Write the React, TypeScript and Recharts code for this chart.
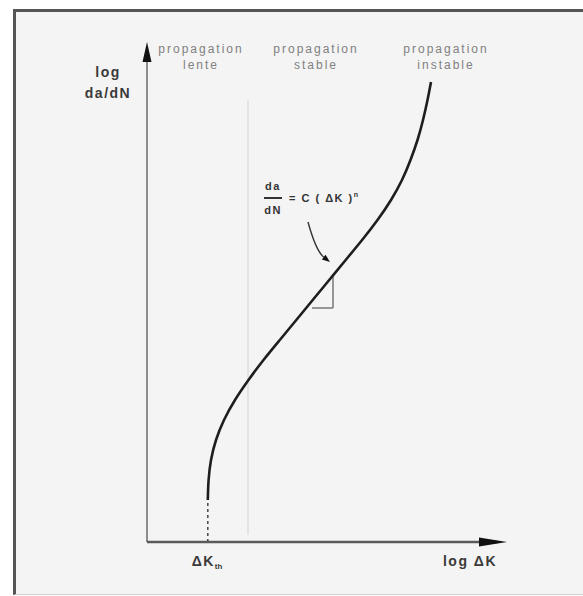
import React from 'react';
import { LineChart, Line, XAxis, YAxis, ReferenceLine } from 'recharts';

// Paris-law crack growth curve: log(da/dN) against log(ΔK), arbitrary 0–100 units
const logDeltaK = [16.89, 17.11, 17.78, 19.17, 21.39, 24.44, 28.19, 32.36, 36.89, 41.47, 46.03, 50.61, 55.19, 59.75, 64.03, 67.78, 70.83, 73.19, 75.14, 76.67, 77.92, 78.89];
const logDaDN = [8.4, 12.4, 16.4, 20.4, 24.4, 28.4, 32.4, 36.4, 40.4, 44.4, 48.4, 52.4, 56.4, 60.4, 64.4, 68.4, 72.4, 76.4, 80.4, 84.4, 88.4, 92.0];

// threshold ΔK_th (start of the curve) and the boundary between slow and stable growth
const deltaKth = logDeltaK[0];
const regimeBoundary = 28.06;

// slope triangle on the linear (Paris) part
const triangleX = [45.83, 51.67];
const triangleY = [46.8, 53.4];

// pointer from the formula to the straight part
const pointerFrom = { x: 44.72, y: 64 };
const pointerTo = { x: 50.83, y: 56 };

const regimeLabels = [
  { x: 201, lines: ['propagation', 'lente'] },
  { x: 316, lines: ['propagation', 'stable'] },
  { x: 446, lines: ['propagation', 'instable'] },
];

const data = logDeltaK.map((x, i) => ({ x, y: logDaDN[i] }));

const W = 583;
const H = 596;
const FONT = '"Liberation Sans", Arial, Helvetica, sans-serif';

const yAxisShape = (p: any) => {
  const { x1, y1, x2, y2 } = p;
  return (
    <g>
      <line x1={x1} y1={y1} x2={x2} y2={y2 + 10} stroke="#8c8c8c" strokeWidth={2} />
      <polygon points={`${x2},${y2} ${x2 - 4.5},${y2 + 20} ${x2 + 4.5},${y2 + 20}`} fill="#111" />
    </g>
  );
};

const xAxisShape = (p: any) => {
  const { x1, y1, x2, y2 } = p;
  return (
    <g>
      <line x1={x1} y1={y1} x2={x2 - 10} y2={y2} stroke="#5a5a5a" strokeWidth={2.5} />
      <polygon points={`${x2},${y2} ${x2 - 28},${y2 - 4.5} ${x2 - 28},${y2 + 4.5}`} fill="#111" />
    </g>
  );
};

const pointerShape = (p: any) => {
  const { x1, y1, x2, y2 } = p;
  const cx = x1 + 8;
  const cy = y2 - 11;
  const dx = x2 - cx;
  const dy = y2 - cy;
  const len = Math.hypot(dx, dy);
  const ux = dx / len;
  const uy = dy / len;
  const bx = x2 - ux * 8;
  const by = y2 - uy * 8;
  return (
    <g>
      <path d={`M${x1},${y1} Q${cx},${cy} ${bx},${by}`} fill="none" stroke="#333" strokeWidth={1.4} />
      <polygon
        points={`${x2},${y2} ${bx - uy * 3},${by + ux * 3} ${bx + uy * 3},${by - ux * 3}`}
        fill="#111"
      />
    </g>
  );
};

const Txt = ({ x, y, children, style }: any) => (
  <div
    style={{
      position: 'absolute',
      left: x,
      top: y,
      transform: 'translate(-50%, -50%)',
      whiteSpace: 'nowrap',
      lineHeight: 1,
      fontFamily: FONT,
      ...style,
    }}
  >
    {children}
  </div>
);

export default function App() {
  const regimeStyle = { fontSize: 12, color: '#808080', letterSpacing: 2 };
  const axisStyle = { fontSize: 14, color: '#3a3a3a', fontWeight: 'bold', letterSpacing: 1.5 };
  const formulaStyle = { fontSize: 11, color: '#333', fontWeight: 'bold', letterSpacing: 1.5 };
  return (
    <div style={{ position: 'absolute', left: 0, top: 0, width: W, height: H, background: '#fff', overflow: 'hidden' }}>
      <div
        style={{
          position: 'absolute',
          left: 13,
          top: 9,
          width: W - 13,
          height: H - 10,
          boxSizing: 'border-box',
          borderLeft: '3px solid #555',
          borderTop: '3px solid #555',
          borderBottom: '1px solid #cfcfcf',
          background: '#f4f4f4',
        }}
      />
      <div style={{ position: 'absolute', left: 0, top: 0 }}>
        <LineChart width={W} height={H} data={data} margin={{ top: 42, right: 76, bottom: 54, left: 147 }}>
          <XAxis type="number" dataKey="x" domain={[0, 100]} hide />
          <YAxis type="number" domain={[0, 100]} hide />
          <ReferenceLine
            segment={[{ x: regimeBoundary, y: 1.4 }, { x: regimeBoundary, y: 88.4 }]}
            stroke="#d2d2d2"
            strokeWidth={1}
          />
          <ReferenceLine
            segment={[{ x: deltaKth, y: 0 }, { x: deltaKth, y: logDaDN[0] }]}
            stroke="#444"
            strokeWidth={1.5}
            strokeDasharray="3 3"
          />
          <ReferenceLine segment={[{ x: 0, y: 0 }, { x: 0, y: 100 }]} shape={yAxisShape} />
          <ReferenceLine segment={[{ x: 0, y: 0 }, { x: 100, y: 0 }]} shape={xAxisShape} />
          <ReferenceLine
            segment={[{ x: triangleX[1], y: triangleY[1] }, { x: triangleX[1], y: triangleY[0] }]}
            stroke="#777"
            strokeWidth={1.5}
          />
          <ReferenceLine
            segment={[{ x: triangleX[0], y: triangleY[0] }, { x: triangleX[1], y: triangleY[0] }]}
            stroke="#777"
            strokeWidth={1.5}
          />
          <ReferenceLine segment={[pointerFrom, pointerTo]} shape={pointerShape} />
          <Line
            type="natural"
            dataKey="y"
            stroke="#1e1e1e"
            strokeWidth={2.6}
            dot={false}
            activeDot={false}
            isAnimationActive={false}
          />
        </LineChart>
      </div>

      {regimeLabels.map((r) => (
        <React.Fragment key={r.x}>
          <Txt x={r.x} y={49} style={regimeStyle}>{r.lines[0]}</Txt>
          <Txt x={r.x} y={65} style={regimeStyle}>{r.lines[1]}</Txt>
        </React.Fragment>
      ))}

      <Txt x={108} y={72} style={axisStyle}>log</Txt>
      <Txt x={108} y={93} style={axisStyle}>da/dN</Txt>

      <Txt x={207} y={561} style={axisStyle}>
        ΔK<span style={{ fontSize: 8, letterSpacing: 0, position: 'relative', top: 3 }}>th</span>
      </Txt>
      <Txt x={470} y={561} style={axisStyle}>log ΔK</Txt>

      <Txt x={273} y={186} style={formulaStyle}>da</Txt>
      <div style={{ position: 'absolute', left: 264, top: 197, width: 18, height: 1.5, background: '#333' }} />
      <Txt x={273} y={210} style={formulaStyle}>dN</Txt>
      <div
        style={{
          position: 'absolute',
          left: 289,
          top: 198,
          transform: 'translateY(-50%)',
          whiteSpace: 'nowrap',
          lineHeight: 1,
          fontFamily: FONT,
          ...formulaStyle,
        }}
      >
        = C ( ΔK )<span style={{ fontSize: 7, position: 'relative', top: -5 }}>n</span>
      </div>
    </div>
  );
}
